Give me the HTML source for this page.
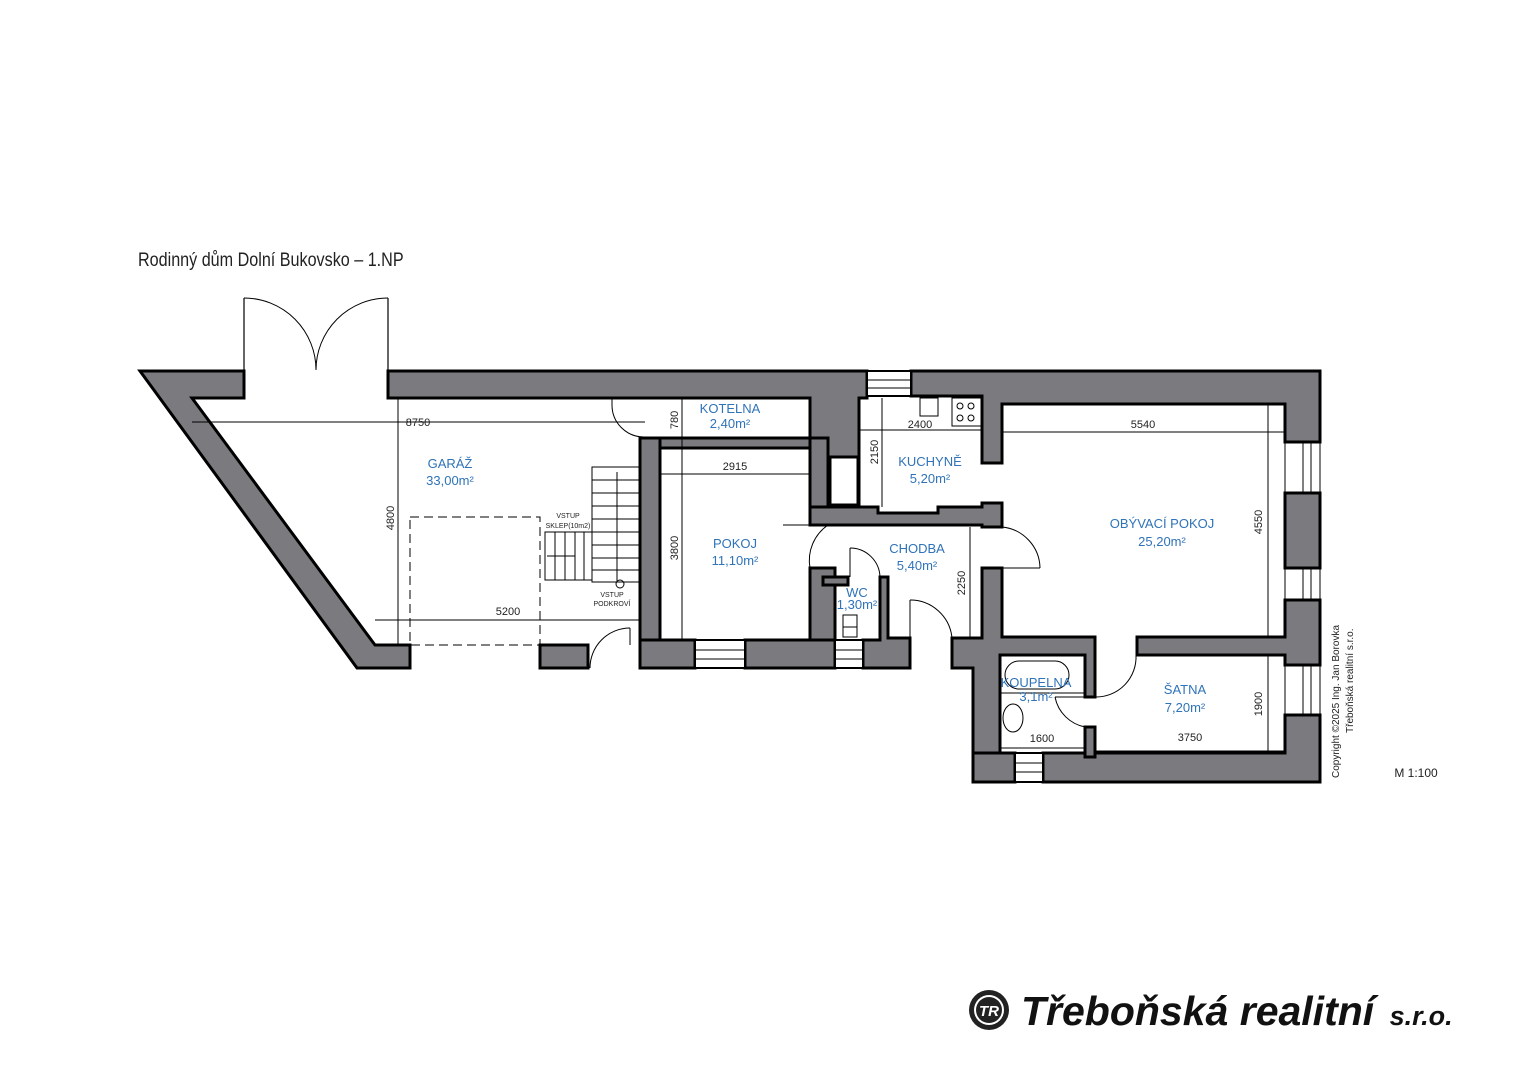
<!DOCTYPE html>
<html><head><meta charset="utf-8"><style>
html,body{margin:0;padding:0;background:#fff;}
svg{display:block;}
.w{fill:#7b7b7f;stroke:#000;stroke-width:3;stroke-linejoin:miter;}
.t{font-family:"Liberation Sans Narrow","Liberation Sans",sans-serif;}
.b{fill:#2f73b8;font-size:13px;}
.d{fill:#222;font-size:11px;}
.l{stroke:#000;stroke-width:1;fill:none;}
.th{stroke:#000;stroke-width:1.2;fill:none;}
</style></head><body>
<svg width="1519" height="1074" viewBox="0 0 1519 1074" xmlns="http://www.w3.org/2000/svg">
<text x="138" y="266" class="t" font-size="19" fill="#222" transform="translate(138 266) scale(0.85 1) translate(-138 -266)">Rodinný dům Dolní Bukovsko – 1.NP</text>

<g class="th">
<line x1="244" y1="298" x2="244" y2="371"/>
<line x1="388" y1="298" x2="388" y2="371"/>
</g>
<path class="l" d="M244 298 A72 72 0 0 1 316 370"/>
<path class="l" d="M388 298 A72 72 0 0 0 316 370"/>

<polygon class="w" points="140,371 244,371 244,398 192,398 375,645 410,645 410,668 357,668"/>
<polygon class="w" points="388,371 867,371 867,398 859,398 859,507 810,507 810,398 388,398"/>
<rect x="830" y="457" width="28" height="48" fill="#fff" stroke="#000" stroke-width="3"/>
<rect class="w" x="640" y="438" width="170" height="10"/>
<rect class="w" x="640" y="438" width="20" height="230"/>
<rect class="w" x="810" y="438" width="18" height="87"/>
<rect class="w" x="810" y="568" width="25" height="100"/>
<rect class="w" x="640" y="640" width="55" height="28"/>
<rect class="w" x="745" y="640" width="90" height="28"/>
<rect class="w" x="540" y="645" width="48" height="23"/>
<polygon class="w" points="810,507 878,507 878,513 938,513 938,507 982,507 982,503 1002,503 1002,527 982,527 982,525 810,525"/>
<line class="l" x1="878" y1="513" x2="938" y2="513"/>
<polygon class="w" points="911,371 1320,371 1320,442 1285,442 1285,404 1002,404 1002,463 982,463 982,396 911,396"/>
<rect x="867" y="371" width="44" height="25" fill="#fff" stroke="#000" stroke-width="2"/>
<line class="l" x1="867" y1="380" x2="911" y2="380"/><line class="l" x1="867" y1="388" x2="911" y2="388"/>
<rect class="w" x="1285" y="493" width="35" height="75"/>
<polygon class="w" points="1285,600 1320,600 1320,665 1285,665 1285,655 1137,655 1137,637 1285,637"/>
<polygon class="w" points="1285,715 1320,715 1320,782 1043,782 1043,753 1285,753"/>
<g class="l"><line x1="1303" y1="442" x2="1303" y2="493"/><line x1="1311" y1="442" x2="1311" y2="493"/><line x1="1285" y1="442" x2="1285" y2="493"/><line x1="1320" y1="442" x2="1320" y2="493"/>
<line x1="1303" y1="568" x2="1303" y2="600"/><line x1="1311" y1="568" x2="1311" y2="600"/><line x1="1285" y1="568" x2="1285" y2="600"/><line x1="1320" y1="568" x2="1320" y2="600"/>
<line x1="1303" y1="665" x2="1303" y2="715"/><line x1="1311" y1="665" x2="1311" y2="715"/><line x1="1285" y1="665" x2="1285" y2="715"/><line x1="1320" y1="665" x2="1320" y2="715"/></g>
<polygon class="w" points="982,568 1002,568 1002,637 1095,637 1095,697 1085,697 1085,655 1000,655 1000,782 973,782 973,668 952,668 952,638 982,638"/>
<rect class="w" x="973" y="753" width="42" height="29"/>
<rect class="w" x="1085" y="727" width="10" height="30"/>
<rect x="1015" y="753" width="28" height="29" fill="#fff" stroke="#000" stroke-width="2"/>
<line class="l" x1="1015" y1="763" x2="1043" y2="763"/><line class="l" x1="1015" y1="772" x2="1043" y2="772"/>
<rect class="w" x="823" y="577" width="25" height="8"/>
<polygon class="w" points="880,577 888,577 888,638 910,638 910,668 863,668 863,640 880,640"/>
<rect x="835" y="640" width="28" height="28" fill="#fff" stroke="#000" stroke-width="2"/>
<line class="l" x1="835" y1="650" x2="863" y2="650"/><line class="l" x1="835" y1="659" x2="863" y2="659"/>
<rect x="695" y="640" width="50" height="28" fill="#fff" stroke="#000" stroke-width="2"/>
<line class="l" x1="695" y1="650" x2="745" y2="650"/><line class="l" x1="695" y1="659" x2="745" y2="659"/>

<g class="l">
<path d="M612 405 A32 32 0 0 0 644 437"/><line x1="612" y1="398" x2="612" y2="405"/>
<path d="M828 525 A43 43 0 0 0 810 568"/><line x1="783" y1="525" x2="828" y2="525"/>
<path d="M850 548 A30 30 0 0 1 880 577"/><line x1="850" y1="548" x2="850" y2="577"/>
<path d="M910 600 A42 42 0 0 1 952 638"/><line x1="910" y1="600" x2="910" y2="638"/>
<path d="M1002 527 A42 42 0 0 1 1040 568"/><line x1="1002" y1="568" x2="1040" y2="568"/>
<path d="M1136 655 A40 40 0 0 1 1095 697"/>
<path d="M1055 697 A38 38 0 0 0 1085 727"/><line x1="1055" y1="697" x2="1085" y2="697"/>
<path d="M590 668 A40 40 0 0 1 630 628"/><line x1="630" y1="628" x2="630" y2="645"/>
</g>

<g class="l">
<rect x="592" y="467" width="48" height="115"/>
<line x1="617" y1="472" x2="617" y2="582"/>
<line x1="592" y1="480" x2="640" y2="480"/><line x1="592" y1="493" x2="640" y2="493"/><line x1="592" y1="506" x2="640" y2="506"/><line x1="592" y1="519" x2="640" y2="519"/><line x1="592" y1="532" x2="640" y2="532"/><line x1="592" y1="545" x2="640" y2="545"/><line x1="592" y1="558" x2="640" y2="558"/><line x1="592" y1="570" x2="640" y2="570"/>
<rect x="545" y="532" width="47" height="48"/>
<line x1="555" y1="532" x2="555" y2="580"/><line x1="565" y1="532" x2="565" y2="580"/><line x1="575" y1="532" x2="575" y2="580"/><line x1="584" y1="532" x2="584" y2="580"/>
<line x1="547" y1="556" x2="575" y2="556"/>
<circle cx="620" cy="584" r="4"/>
<rect x="410" y="517" width="130" height="128" stroke-dasharray="9 5"/>
</g>

<g class="l">
<line x1="192" y1="422" x2="645" y2="422"/>
<line x1="398" y1="398" x2="398" y2="645"/>
<line x1="375" y1="620" x2="640" y2="620"/>
<line x1="682" y1="398" x2="682" y2="640"/>
<line x1="660" y1="474" x2="810" y2="474"/>
<line x1="859" y1="430" x2="982" y2="430"/>
<line x1="882" y1="398" x2="882" y2="507"/>
<line x1="1002" y1="432" x2="1285" y2="432"/>
<line x1="1268" y1="404" x2="1268" y2="637"/>
<line x1="970" y1="527" x2="970" y2="638"/>
<line x1="1000" y1="748" x2="1085" y2="748"/>
<line x1="1095" y1="751" x2="1285" y2="751"/>
<line x1="1268" y1="655" x2="1268" y2="753"/>
</g>
<g class="l">
<rect x="920" y="398" width="18" height="18"/>
<rect x="952" y="398" width="30" height="28"/>
<circle cx="960" cy="406" r="3"/><circle cx="971" cy="406" r="3"/><circle cx="960" cy="418" r="3"/><circle cx="971" cy="418" r="3"/>
<rect x="1005" y="661" width="64" height="28" rx="14"/>
<line x1="1000" y1="693" x2="1085" y2="693"/>
<ellipse cx="1013" cy="718" rx="10" ry="14"/>
<rect x="843" y="627" width="14" height="10"/><path d="M843 627 v-12 h14 v12"/>
</g>

<g class="t" text-anchor="middle">
<text class="d" x="418" y="426">8750</text>
<text class="d" x="508" y="615">5200</text>
<text class="d" x="735" y="470">2915</text>
<text class="d" x="920" y="428">2400</text>
<text class="d" x="1143" y="428">5540</text>
<text class="d" x="1042" y="742">1600</text>
<text class="d" x="1190" y="741">3750</text>
<text class="d" transform="translate(394 518) rotate(-90)">4800</text>
<text class="d" transform="translate(678 548) rotate(-90)">3800</text>
<text class="d" transform="translate(678 420) rotate(-90)">780</text>
<text class="d" transform="translate(878 452) rotate(-90)">2150</text>
<text class="d" transform="translate(965 583) rotate(-90)">2250</text>
<text class="d" transform="translate(1262 522) rotate(-90)">4550</text>
<text class="d" transform="translate(1262 704) rotate(-90)">1900</text>
<text class="b" x="450" y="468">GARÁŽ</text><text class="b" x="450" y="485">33,00m²</text>
<text class="b" x="730" y="413" font-size="11">KOTELNA</text><text class="b" x="730" y="428" font-size="11">2,40m²</text>
<text class="b" x="930" y="466">KUCHYNĚ</text><text class="b" x="930" y="483">5,20m²</text>
<text class="b" x="735" y="548">POKOJ</text><text class="b" x="735" y="565">11,10m²</text>
<text class="b" x="917" y="553">CHODBA</text><text class="b" x="917" y="570">5,40m²</text>
<text class="b" x="857" y="597" font-size="10">WC</text><text class="b" x="857" y="609" font-size="10">1,30m²</text>
<text class="b" x="1162" y="528">OBÝVACÍ POKOJ</text><text class="b" x="1162" y="546">25,20m²</text>
<text class="b" x="1036" y="687" font-size="11">KOUPELNA</text><text class="b" x="1036" y="701" font-size="11">3,1m²</text>
<text class="b" x="1185" y="694">ŠATNA</text><text class="b" x="1185" y="712">7,20m²</text>
<text x="568" y="518" font-size="7" fill="#222">VSTUP</text><text x="568" y="528" font-size="7" fill="#222">SKLEP(10m2)</text>
<text x="612" y="597" font-size="7" fill="#222">VSTUP</text><text x="612" y="606" font-size="7" fill="#222">PODKROVÍ</text>
<text x="1416" y="777" font-size="12" fill="#222">M 1:100</text>
</g>
<g class="t" font-size="10" fill="#222">
<text transform="translate(1339 778) rotate(-90)">Copyright ©2025 Ing. Jan Borovka</text>
<text transform="translate(1353 733) rotate(-90)">Třeboňská realitní s.r.o.</text>
</g>

<g>
<circle cx="989" cy="1010" r="20" fill="#222"/>
<circle cx="989" cy="1010" r="15" fill="#fff"/>
<circle cx="989" cy="1010" r="13" fill="#222"/>
<text x="989" y="1016" text-anchor="middle" font-family="Liberation Sans" font-weight="bold" font-style="italic" font-size="15" fill="#fff">TR</text>
</g>
<text x="1021" y="1025" font-family="Liberation Sans" font-weight="bold" font-style="italic" font-size="41" fill="#111" transform="translate(1021 1025) scale(1.0 1) translate(-1021 -1025)">Třeboňská realitní <tspan font-size="27" dx="4">s.r.o.</tspan></text>
</svg>
</body></html>
